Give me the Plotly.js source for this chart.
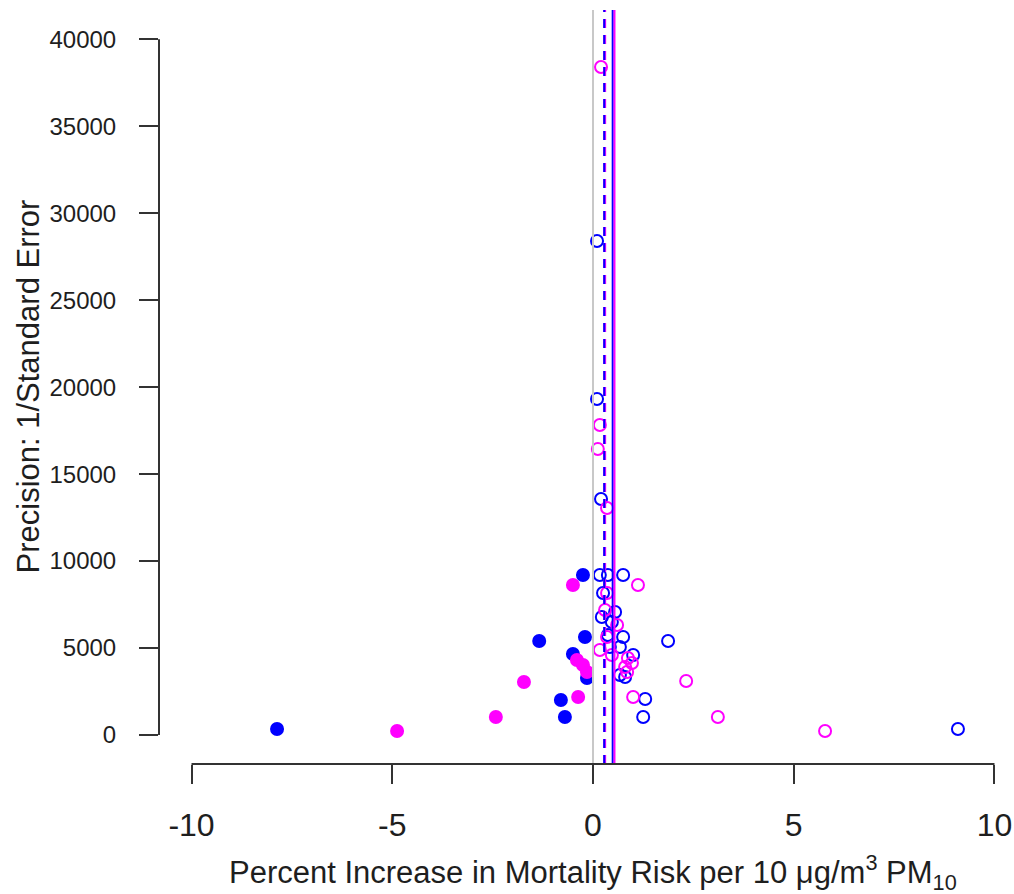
<!DOCTYPE html>
<html>
<head>
<meta charset="utf-8">
<script src="https://cdn.plot.ly/plotly-3.0.1.min.js"></script>
<style>html,body{margin:0;padding:0;background:#fff;}#chart{width:1014px;height:894px;}</style>
</head>
<body>
<div id="chart"></div>
<script>
// Open blue circles
const blueOpenX = [0.10, 0.10, 0.20, 0.17, 0.37, 0.75, 0.25, 0.55, 0.22, 0.47, 0.37, 0.75, 0.42, 0.67, 1.00, 1.87, 0.67, 0.80, 1.30, 1.25, 9.09];
const blueOpenY = [28405, 19320, 13570, 9200, 9200, 9200, 8165, 7073, 6785, 6500, 5750, 5635, 5060, 5060, 4600, 5405, 3450, 3335, 2070, 1035, 345];
// Open magenta circles
const magOpenX = [0.20, 0.17, 0.12, 0.35, 1.12, 0.35, 0.30, 0.60, 0.35, 0.17, 0.47, 0.87, 0.97, 0.80, 0.85, 2.32, 1.00, 3.11, 5.78];
const magOpenY = [38410, 17825, 16445, 13050, 8625, 8165, 7190, 6325, 5635, 4890, 4600, 4430, 4140, 3910, 3620, 3105, 2185, 1035, 230];
// Filled blue circles
const blueFillX = [-7.87, -0.25, -1.34, -0.20, -0.50, -0.15, -0.80, -0.70];
const blueFillY = [345, 9200, 5405, 5635, 4660, 3280, 2015, 1035];
// Filled magenta circles
const magFillX = [-0.50, -4.88, -2.42, -1.72, -0.37, -0.40, -0.25, -0.15];
const magFillY = [8625, 230, 1035, 3050, 2185, 4310, 4025, 3620];
// Reference / summary lines
const nullLine = 0;
const dashedBlue = 0.28;
const dashedMag = 0.29;
const solidBlue = 0.49;
const solidMag = 0.535;
// Tick labels
const xTicks = [-10, -5, 0, 5, 10];
const yTicks = [0, 5000, 10000, 15000, 20000, 25000, 30000, 35000, 40000];

const BLUE = '#0000ff', MAG = '#ff00ff';
const font = '"Liberation Sans", Arial, sans-serif';
const txt = '#1e1e1e';

const traces = [
  {x: blueFillX, y: blueFillY, type: 'scatter', mode: 'markers',
   marker: {symbol: 'circle', size: 12, color: BLUE, line: {color: BLUE, width: 2}}},
  {x: blueOpenX, y: blueOpenY, type: 'scatter', mode: 'markers',
   marker: {symbol: 'circle-open', size: 12, color: BLUE, line: {color: BLUE, width: 2}}},
  {x: magFillX, y: magFillY, type: 'scatter', mode: 'markers',
   marker: {symbol: 'circle', size: 12, color: MAG, line: {color: MAG, width: 2}}},
  {x: magOpenX, y: magOpenY, type: 'scatter', mode: 'markers',
   marker: {symbol: 'circle-open', size: 12, color: MAG, line: {color: MAG, width: 2}}}
];

function vline(x, color, width, dash) {
  return {type: 'line', xref: 'x', yref: 'paper', x0: x, x1: x, y0: 0, y1: 1,
          layer: 'above', line: {color: color, width: width, dash: dash || 'solid'}};
}

const shapes = [
  vline(nullLine, '#c8c8c8', 2),
  vline(dashedMag, MAG, 3, '9px,7px'),
  vline(dashedBlue, BLUE, 2, '9px,7px'),
  vline(solidBlue, BLUE, 2),
  vline(solidMag, MAG, 2),
  // axis lines spanning only the tick range (R style)
  {type: 'line', xref: 'paper', yref: 'y', x0: 0, x1: 0, y0: yTicks[0], y1: yTicks[yTicks.length-1],
   layer: 'above', line: {color: '#333', width: 2}},
  {type: 'line', xref: 'x', yref: 'paper', x0: xTicks[0], x1: xTicks[xTicks.length-1], y0: 0, y1: 0,
   layer: 'above', line: {color: '#333', width: 2}}
];

const layout = {
  width: 1014, height: 894,
  margin: {l: 159, r: 0, t: 10, b: 130},
  paper_bgcolor: '#fff', plot_bgcolor: '#fff',
  showlegend: false,
  xaxis: {range: [-10.81, 10.486], showgrid: false, zeroline: false, showline: false,
          tickmode: 'array', tickvals: xTicks, ticktext: xTicks.map(String),
          ticks: 'outside', ticklen: 19, tickwidth: 2, tickcolor: '#333',
          ticklabelstandoff: 14, ticklabeloverflow: 'allow',
          tickfont: {family: font, size: 32, color: txt}},
  yaxis: {range: [-1668, 41688], showgrid: false, zeroline: false, showline: false,
          tickmode: 'array', tickvals: yTicks, ticktext: yTicks.map(String),
          ticks: 'outside', ticklen: 19, tickwidth: 2, tickcolor: '#333',
          ticklabelstandoff: 18,
          tickfont: {family: font, size: 24, color: txt}},
  shapes: shapes,
  annotations: [
    {text: 'Percent Increase in Mortality Risk per 10 \u03bcg/m<sup>3</sup> PM<sub>10</sub>',
     xref: 'x', x: 0, xanchor: 'center', yref: 'paper', y: 0, yanchor: 'middle', yshift: -108,
     showarrow: false, font: {family: font, size: 31, color: txt}},
    {text: 'Precision: 1/Standard Error', textangle: -90,
     xref: 'paper', x: -0.1538, xanchor: 'center', yref: 'paper', y: 0.5, yanchor: 'middle',
     showarrow: false, font: {family: font, size: 31, color: txt}}
  ]
};

Plotly.newPlot('chart', traces, layout, {staticPlot: true, displayModeBar: false});
</script>
</body>
</html>
